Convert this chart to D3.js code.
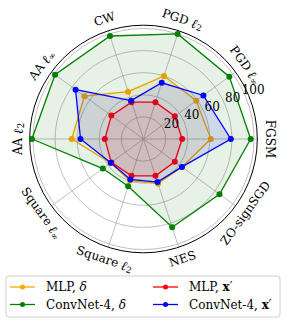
<!DOCTYPE html>
<html>
<head>
<meta charset="utf-8">
<script src="https://cdn.jsdelivr.net/npm/d3@7"></script>
<style>
  body { margin: 0; background: #fff; }
  text { font-family: "DejaVu Serif", serif; }
</style>
</head>
<body>
<svg id="chart" width="286" height="323"></svg>
<script>
// axes, clockwise starting from CW
const attacks = ["CW", "PGD l2", "PGD linf", "FGSM", "ZO-signSGD", "NES", "Square l2", "Square linf", "AA l2", "AA linf"];
const ticks = [20, 40, 60, 80, 100];

// values
const mlpDelta   = [45, 60, 59, 61, 43, 42.5, 39.5, 37, 65, 66];
const convDelta  = [98, 100, 96, 97, 85, 84, 45, 45.5, 101, 99];
const mlpX       = [35, 35, 35, 35, 35, 35, 35, 36, 35, 36];
const convX      = [36.5, 53.5, 67, 79, 43, 41, 38.5, 36.6, 57, 76];

const series = [
  {name: "MLP", sym: "delta", color: "#ffa500", values: mlpDelta},
  {name: "ConvNet-4", sym: "delta", color: "#008000", values: convDelta},
  {name: "MLP", sym: "x", color: "#ff0000", values: mlpX},
  {name: "ConvNet-4", sym: "x", color: "#0000ff", values: convX}
];

const cx = 143.5, cy = 139;
const svg = d3.select("#chart");
const g = svg.append("g").attr("transform", `translate(${cx},${cy})`);

const r = d3.scaleLinear().domain([0, 100]).range([0, 110.5]);
const angle = d3.scaleLinear().domain([0, attacks.length]).range([-Math.PI / 10, 2 * Math.PI - Math.PI / 10]);

// grid circles
g.selectAll("circle.grid")
  .data(ticks)
  .join("circle")
  .attr("class", "grid")
  .attr("r", d => r(d))
  .attr("fill", "none")
  .attr("stroke", "#b0b0b0")
  .attr("stroke-width", 0.8);

// spokes
g.selectAll("line.spoke")
  .data(attacks)
  .join("line")
  .attr("class", "spoke")
  .attr("x1", 0).attr("y1", 0)
  .attr("x2", (d, i) => d3.pointRadial(angle(i), r(103))[0])
  .attr("y2", (d, i) => d3.pointRadial(angle(i), r(103))[1])
  .attr("stroke", "#b0b0b0")
  .attr("stroke-width", 0.8);

// outer frame
g.append("circle")
  .attr("r", r(103))
  .attr("fill", "none")
  .attr("stroke", "#000")
  .attr("stroke-width", 1);

const line = d3.lineRadial()
  .angle((d, i) => angle(i))
  .radius(d => r(d))
  .curve(d3.curveLinearClosed);

series.forEach(s => {
  g.append("path")
    .attr("d", line(s.values))
    .attr("fill", s.color)
    .attr("fill-opacity", 0.1)
    .attr("stroke", s.color)
    .attr("stroke-width", 1.3);
  g.selectAll(null)
    .data(s.values)
    .join("circle")
    .attr("cx", (d, i) => d3.pointRadial(angle(i), r(d))[0])
    .attr("cy", (d, i) => d3.pointRadial(angle(i), r(d))[1])
    .attr("r", 3)
    .attr("fill", s.color);
});

// radial tick labels
const tickAng = 67.5 * Math.PI / 180;
g.selectAll("text.tick")
  .data(ticks)
  .join("text")
  .attr("class", "tick")
  .attr("x", d => d3.pointRadial(tickAng, r(d))[0] + 7.5)
  .attr("y", d => d3.pointRadial(tickAng, r(d))[1] - 7)
  .attr("text-anchor", "middle")
  .attr("dominant-baseline", "central")
  .attr("font-size", 12)
  .text(d => d);

// axis labels, tangent to the circle
function writeLabel(sel, name) {
  const m = name.match(/^(.*) l(2|inf)$/);
  if (!m) { sel.text(name); return; }
  sel.append("tspan").text(m[1] + " ");
  sel.append("tspan").attr("font-style", "italic").attr("font-weight", "bold").attr("font-size", 13).text("\u2113");
  sel.append("tspan").attr("font-size", 8.5).attr("dy", 3).text(m[2] == "2" ? "2" : "\u221e");
}

attacks.forEach((name, i) => {
  const a = angle(i);
  const p = d3.pointRadial(a, 126);
  let deg = a * 180 / Math.PI;
  if (deg > 180) deg -= 360;
  let rot = deg;
  if (deg > 90) rot = deg - 180;
  if (deg < -90) rot = deg + 180;
  const t = g.append("text")
    .attr("transform", `translate(${p[0]},${p[1]}) rotate(${rot})`)
    .attr("text-anchor", "middle")
    .attr("dominant-baseline", "central")
    .attr("font-size", 12);
  writeLabel(t, name);
});

// legend
const lg = svg.append("g");
lg.append("rect")
  .attr("x", 6).attr("y", 276).attr("width", 274).attr("height", 41)
  .attr("rx", 3)
  .attr("fill", "#fff").attr("fill-opacity", 0.8)
  .attr("stroke", "#d0d0d0").attr("stroke-width", 1);

const legX = [10, 153];
const legY = [287, 304.5];
series.forEach((s, i) => {
  const col = Math.floor(i / 2), row = i % 2;
  const x0 = legX[col], y0 = legY[row];
  lg.append("line")
    .attr("x1", x0).attr("x2", x0 + 25)
    .attr("y1", y0).attr("y2", y0)
    .attr("stroke", s.color).attr("stroke-width", 1.3);
  lg.append("circle")
    .attr("cx", x0 + 12.5).attr("cy", y0).attr("r", 2.5)
    .attr("fill", s.color);
  const t = lg.append("text")
    .attr("x", x0 + 36).attr("y", y0)
    .attr("dominant-baseline", "central")
    .attr("font-size", 12);
  t.append("tspan").text(s.name + ", ");
  if (s.sym == "delta") {
    t.append("tspan").attr("font-style", "italic").text("\u03b4");
  } else {
    t.append("tspan").attr("font-weight", "bold").text("x");
    t.append("tspan").text("\u2032");
  }
});
</script>
</body>
</html>
